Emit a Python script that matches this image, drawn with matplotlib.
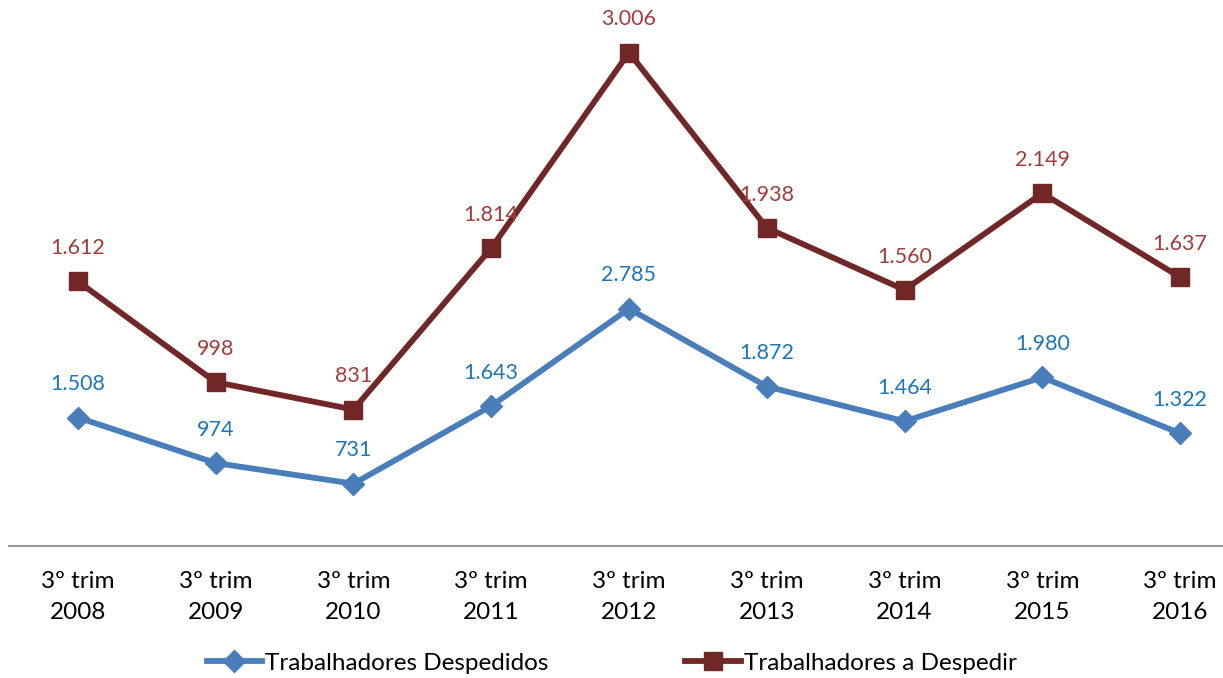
import matplotlib.pyplot as plt

plt.rcParams['font.family'] = ['Lato', 'DejaVu Sans']

categories = ["3º trim\n2008", "3º trim\n2009", "3º trim\n2010", "3º trim\n2011", "3º trim\n2012",
              "3º trim\n2013", "3º trim\n2014", "3º trim\n2015", "3º trim\n2016"]
despedidos = [1508, 974, 731, 1643, 2785, 1872, 1464, 1980, 1322]
a_despedir = [1612, 998, 831, 1814, 3006, 1938, 1560, 2149, 1637]


def fmt(v):
    return f"{v:,}".replace(",", ".")


BLUE = "#4A7EBB"
BLUE_TXT = "#1C75BC"
RED = "#722727"
RED_TXT = "#A13D3A"

fig = plt.figure(figsize=(12.23, 6.78), dpi=100)
ax = fig.add_axes([9 / 1223, 1 - 546 / 678, 1240 / 1223, 526 / 678])
ax2 = ax.twinx()

x = list(range(len(categories)))

ax.plot(x, despedidos, color=BLUE, linewidth=4.2, marker='D', markersize=11,
        markerfacecolor=BLUE, markeredgecolor=BLUE, label='Trabalhadores Despedidos', zorder=3)
ax2.plot(x, a_despedir, color=RED, linewidth=4.2, marker='s', markersize=13,
         markerfacecolor=RED, markeredgecolor=RED, label='Trabalhadores a Despedir', zorder=3)

for xi, v in zip(x, despedidos):
    ax.annotate(fmt(v), (xi, v), xytext=(0, 24), textcoords='offset points',
                ha='center', va='center', fontsize=15.5, color=BLUE_TXT)
for xi, v in zip(x, a_despedir):
    ax2.annotate(fmt(v), (xi, v), xytext=(0, 24), textcoords='offset points',
                 ha='center', va='center', fontsize=15.5, color=RED_TXT)

ax.set_xlim(-0.5, 8.5)
ax.set_ylim(0, 6174)
ax2.set_ylim(0, 3204)

for a in (ax, ax2):
    for s in ('top', 'right', 'left'):
        a.spines[s].set_visible(False)
    a.set_yticks([])
ax2.spines['bottom'].set_visible(False)
ax.spines['bottom'].set_color('#9A9A9A')
ax.spines['bottom'].set_linewidth(1.5)

ax.set_xticks(x)
ax.set_xticklabels(categories, fontsize=17.5, linespacing=1.6)
ax.tick_params(axis='x', length=0, pad=18)

h1, l1 = ax.get_legend_handles_labels()
h2, l2 = ax2.get_legend_handles_labels()
fig.legend(h1 + h2, l1 + l2, loc='center', bbox_to_anchor=(0.5, 1 - 663 / 678), ncol=2,
           frameon=False, fontsize=17.5, handlelength=2.3, handletextpad=0.12,
           columnspacing=5.6)

fig.savefig('out.png', dpi=100)
